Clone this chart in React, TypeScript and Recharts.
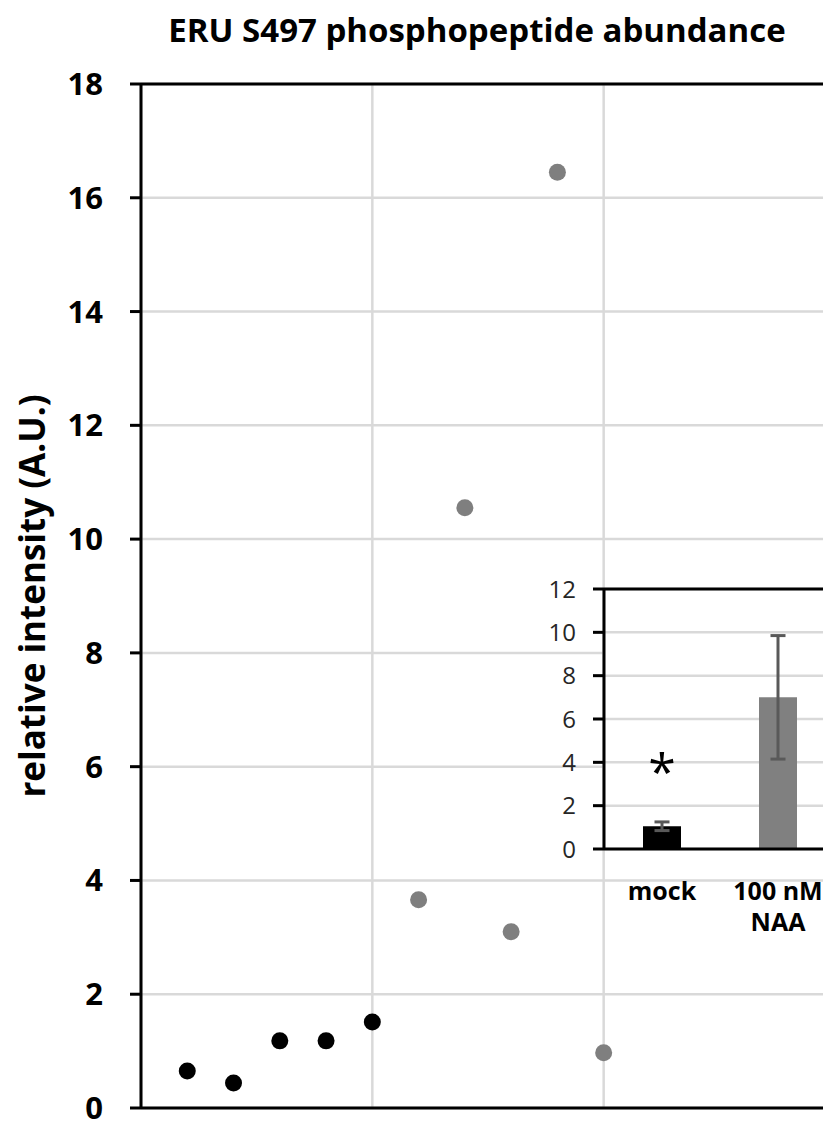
import React from 'react';
import {
  ScatterChart, Scatter, BarChart, Bar, Cell, ErrorBar, XAxis, YAxis,
  CartesianGrid, ReferenceLine, ReferenceDot,
} from 'recharts';

// main scatter: replicate index vs relative intensity
const mockX = [1, 2, 3, 4, 5];
const mockY = [0.65, 0.44, 1.18, 1.18, 1.51];
const naaX = [6, 7, 8, 9, 10];
const naaY = [3.66, 10.55, 3.1, 16.45, 0.97];
const mainTicks = [0, 2, 4, 6, 8, 10, 12, 14, 16, 18];
const xGridTicks = [0, 5, 10, 15];

// inset bar chart: mean +/- sd
const insetNames = ['mock', '100 nM\nNAA'];
const insetMeans = [1.05, 7.0];
const insetErrs = [0.2, 2.85];
const insetColors = ['#000000', '#808080'];
const insetTicks = [0, 2, 4, 6, 8, 10, 12];

const FONT = '"Open Sans", sans-serif';

const mockPts = mockX.map((x, i) => ({ x, y: mockY[i] }));
const naaPts = naaX.map((x, i) => ({ x, y: naaY[i] }));
const insetData = insetNames.map((name, i) => ({ name, value: insetMeans[i], err: insetErrs[i] }));

const dot = (fill: string) => (p: any) => <circle cx={p.cx} cy={p.cy} r={8.5} fill={fill} />;

const InsetTick = (props: any) => {
  const { x, y, payload } = props;
  const lines = String(payload.value).split('\n');
  return (
    <text x={x} y={y} textAnchor="middle" fontFamily={FONT} fontSize={25} fontWeight={700} fill="#000">
      {lines.map((l, i) => (
        <tspan key={i} x={x} dy={i === 0 ? 51 : 31}>{l}</tspan>
      ))}
    </text>
  );
};

const NoTick = () => <g />;

export default function App() {
  return (
    <div style={{ position: 'relative', width: 823, height: 1116, overflow: 'hidden', background: '#fff' }}>
      <div style={{ position: 'absolute', left: 0, top: 0 }}>
        <ScatterChart width={840} height={1116} margin={{ top: 76, right: 13, bottom: 14, left: 0 }}>
          <CartesianGrid stroke="#d9d9d9" strokeWidth={2.5} />
          <XAxis
            type="number"
            dataKey="x"
            domain={[0, 15]}
            ticks={xGridTicks}
            interval={0}
            tick={<NoTick />}
            tickLine={false}
            height={2}
            axisLine={{ stroke: '#000', strokeWidth: 3 }}
          />
          <YAxis
            type="number"
            dataKey="y"
            domain={[0, 18]}
            ticks={mainTicks}
            interval={0}
            width={133}
            tickSize={11}
            tickMargin={27}
            tickLine={{ stroke: '#000', strokeWidth: 3 }}
            axisLine={{ stroke: '#000', strokeWidth: 3 }}
            tick={{ fill: '#000', fontSize: 31, fontWeight: 700, fontFamily: FONT }}
          />
          <ReferenceLine y={18} stroke="#000" strokeWidth={3} />
          <Scatter data={mockPts} shape={dot('#000000')} isAnimationActive={false} />
          <Scatter data={naaPts} shape={dot('#7f7f7f')} isAnimationActive={false} />
          <text x={469} y={34} textAnchor="middle" fontFamily={FONT} fontSize={33} fontWeight={700} fill="#000">
            ERU S497 phosphopeptide abundance
          </text>
          <text
            x={37}
            y={588}
            transform="rotate(-90, 37, 588)"
            textAnchor="middle"
            fontFamily={FONT}
            fontSize={35}
            fontWeight={700}
            fill="#000"
          >
            relative intensity (A.U.)
          </text>
        </ScatterChart>
      </div>
      <div style={{ position: 'absolute', left: 526, top: 561 }}>
        <BarChart width={320} height={370} data={insetData} margin={{ top: 20, right: 18, bottom: 0, left: 0 }}>
          <CartesianGrid vertical={false} stroke="#d9d9d9" strokeWidth={2.5} fill="#ffffff" fillOpacity={1} />
          <XAxis
            dataKey="name"
            height={90}
            tickSize={0}
            tickMargin={0}
            tickLine={false}
            axisLine={{ stroke: '#000', strokeWidth: 3 }}
            tick={<InsetTick />}
            interval={0}
          />
          <YAxis
            domain={[0, 12]}
            ticks={insetTicks}
            interval={0}
            width={70}
            tickSize={11}
            tickMargin={17}
            tickLine={{ stroke: '#000', strokeWidth: 3 }}
            axisLine={{ stroke: '#000', strokeWidth: 3 }}
            tick={{ fill: '#262626', fontSize: 24, fontFamily: FONT }}
          />
          <ReferenceLine y={12} stroke="#000" strokeWidth={3} />
          <Bar dataKey="value" barSize={38} isAnimationActive={false}>
            {insetData.map((d, i) => (
              <Cell key={d.name} fill={insetColors[i]} />
            ))}
            <ErrorBar dataKey="err" width={7.5} strokeWidth={3} stroke="#595959" />
          </Bar>
          <ReferenceDot
            x="mock"
            y={4}
            r={0}
            fill="none"
            stroke="none"
            label={{ value: '*', position: 'center', fontSize: 50, fontFamily: FONT, fill: '#000', dy: 10 }}
          />
        </BarChart>
      </div>
    </div>
  );
}
